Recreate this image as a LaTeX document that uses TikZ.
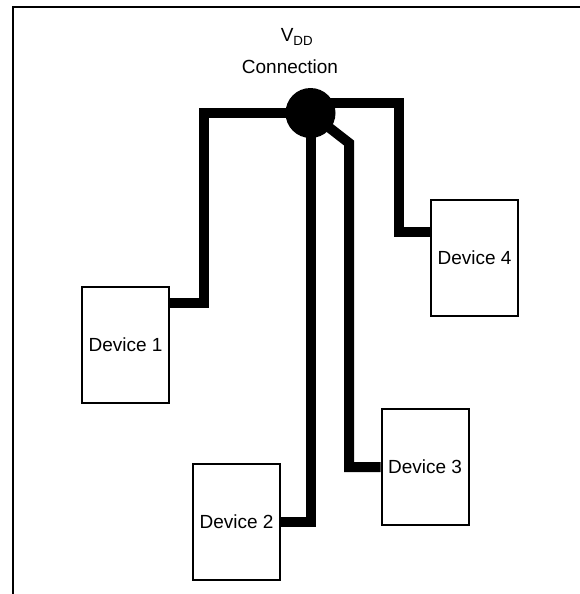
\documentclass[tikz,border=0pt]{standalone}
\usepackage{fontspec}
\setmainfont{Liberation Sans}
\usepackage{tikz}
\usetikzlibrary{backgrounds}

\begin{document}
\begin{tikzpicture}[
  x=1pt,y=-1pt,
  b/.style={draw,line width=2pt,fill=white,align=center,inner sep=0pt,font=\fontsize{19}{22}\selectfont,minimum width=87pt,minimum height=116pt},
  dev/.style={b},
  hub/.style={circle,fill=black,inner sep=0pt,minimum size=50pt},
  lbl/.style={inner sep=0pt,font=\fontsize{19}{22}\selectfont},
  wire/.style={line width=10pt,line join=miter,line cap=butt},
  frame/.style={line width=2pt}
]
\useasboundingbox (0,0) rectangle (580,594);
\draw[frame] (13,594) -- (13,7) -- (580,7);
\node[lbl] (vdd) at (297,37) {V\textsubscript{DD}};
\node[lbl] (conn) at (290,67) {Connection};
\node[hub] (hub) at (310.5,113) {};
\node[dev] (d1) at (125.5,345) {Device 1};
\node[dev] (d2) at (236.5,521.5) {Device 2};
\node[dev] (d3) at (425,467) {Device 3};
\node[dev] (d4) at (474.5,257.5) {Device 4};
\coordinate (k1) at (204,303);
\coordinate (k3) at (349,143);
\coordinate (t4) at (399,103);
\coordinate (k4) at (399,232);
\begin{scope}[on background layer]
\draw[wire] (hub.center) -| (k1) -- (d1.east |- k1);
\draw[wire] (hub.center) |- (d2.east);
\draw[wire] (hub.center) -- (k3) |- (d3.west);
\draw[wire] (hub.center |- t4) -- (t4) -- (k4) -- (d4.west |- k4);
\end{scope}
\end{tikzpicture}
\end{document}
